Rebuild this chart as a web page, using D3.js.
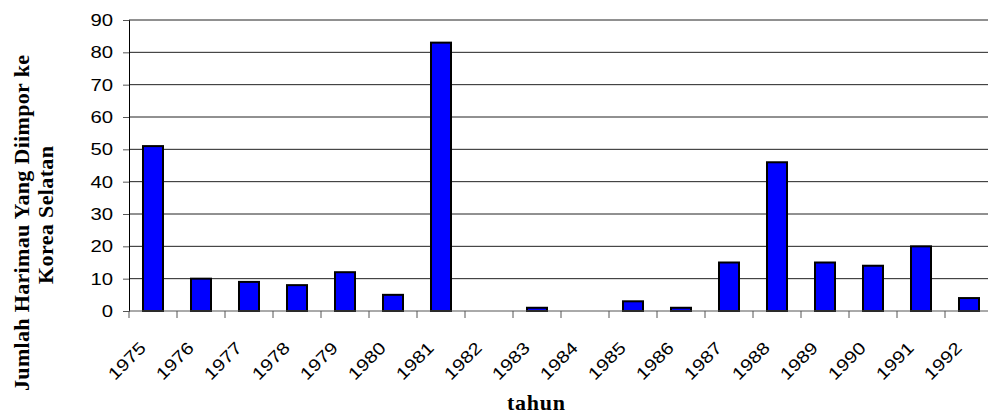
<!DOCTYPE html>
<html>
<head>
<meta charset="utf-8">
<script src="https://cdn.jsdelivr.net/npm/d3@7"></script>
<style>
  body { margin: 0; background: #fff; }
  svg { display: block; }
</style>
</head>
<body>
<div id="chart"></div>
<script>
// data
var years = ["1975", "1976", "1977", "1978", "1979", "1980", "1981", "1982", "1983",
             "1984", "1985", "1986", "1987", "1988", "1989", "1990", "1991", "1992"];
var tigers = [51, 10, 9, 8, 12, 5, 83, 0, 1, 0, 3, 1, 15, 46, 15, 14, 20, 4];
var yTicks = [0, 10, 20, 30, 40, 50, 60, 70, 80, 90];

var width = 988, height = 415;
// plot area (right side runs past the picture edge, as in the original)
var plot = {left: 129, right: 993, top: 20, bottom: 311};
// the original's Arial digits are drawn a little wide
var digitWidth = 11.3;

var svg = d3.select("#chart").append("svg")
    .attr("width", width)
    .attr("height", height);

var x = d3.scaleBand()
    .domain(years)
    .range([plot.left, plot.right])
    .paddingInner(0.5833)
    .paddingOuter(0.29165);

var y = d3.scaleLinear()
    .domain([0, 90])
    .range([plot.bottom, plot.top]);

// gridlines
svg.append("g")
  .selectAll("line")
    .data(yTicks.filter(function(d) { return d > 0; }))
  .enter().append("line")
    .attr("x1", plot.left)
    .attr("x2", plot.right)
    .attr("y1", function(d) { return y(d); })
    .attr("y2", function(d) { return y(d); })
    .attr("stroke", "#222")
    .attr("stroke-width", 1);

// y axis
var yAxis = d3.axisLeft(y)
    .tickValues(yTicks)
    .tickSize(6)
    .tickPadding(10);

var gy = svg.append("g")
    .attr("transform", "translate(" + plot.left + ",0)")
    .call(yAxis);
gy.select(".domain").attr("stroke", "#000");
gy.selectAll(".tick line").attr("stroke", "#555");
gy.selectAll("text")
    .style("font-family", "'Liberation Sans', Arial, sans-serif")
    .style("font-size", "17px")
    .attr("fill", "#000")
    .attr("lengthAdjust", "spacingAndGlyphs")
    .attr("textLength", function(d) { return String(d).length * digitWidth; });

// bars
svg.append("g")
  .selectAll("rect")
    .data(tigers)
  .enter().append("rect")
    .attr("x", function(d, i) { return x(years[i]); })
    .attr("width", x.bandwidth())
    .attr("y", function(d) { return y(d); })
    .attr("height", function(d) { return y(0) - y(d); })
    .attr("fill", "#0000ff")
    .attr("stroke", "#000")
    .attr("stroke-width", 2);

// x axis line and ticks at category boundaries
svg.append("line")
    .attr("x1", plot.left).attr("x2", plot.right)
    .attr("y1", plot.bottom).attr("y2", plot.bottom)
    .attr("stroke", "#555");

svg.append("g")
  .selectAll("line")
    .data(years)
  .enter().append("line")
    .attr("x1", function(d) { return x(d) - x.step() * x.paddingOuter(); })
    .attr("x2", function(d) { return x(d) - x.step() * x.paddingOuter(); })
    .attr("y1", plot.bottom)
    .attr("y2", plot.bottom + 7)
    .attr("stroke", "#555");

// rotated year labels
svg.append("g")
  .selectAll("text")
    .data(years)
  .enter().append("text")
    .attr("transform", function(d) {
      return "translate(" + (x(d) + x.bandwidth() / 2 - 6) + ",349)rotate(-45)";
    })
    .attr("text-anchor", "end")
    .attr("lengthAdjust", "spacingAndGlyphs")
    .attr("textLength", function(d) { return d.length * digitWidth; })
    .style("font-family", "'Liberation Sans', Arial, sans-serif")
    .style("font-size", "17px")
    .attr("fill", "#000")
    .text(function(d) { return d; });

// axis titles
svg.append("text")
    .attr("x", 536)
    .attr("y", 410)
    .attr("text-anchor", "middle")
    .attr("textLength", 58)
    .style("font-family", "'Liberation Serif', 'Times New Roman', serif")
    .style("font-weight", "bold")
    .style("font-size", "22px")
    .text("tahun");

var yTitle = [
  {text: "Jumlah Harimau Yang Diimpor ke", x: 29, y: 223, len: 336},
  {text: "Korea Selatan", x: 53, y: 215, len: 138}
];
svg.append("g")
  .selectAll("text")
    .data(yTitle)
  .enter().append("text")
    .attr("transform", function(d) { return "translate(" + d.x + "," + d.y + ")rotate(-90)"; })
    .attr("text-anchor", "middle")
    .attr("textLength", function(d) { return d.len; })
    .style("font-family", "'Liberation Serif', 'Times New Roman', serif")
    .style("font-weight", "bold")
    .style("font-size", "22px")
    .text(function(d) { return d.text; });
</script>
</body>
</html>
